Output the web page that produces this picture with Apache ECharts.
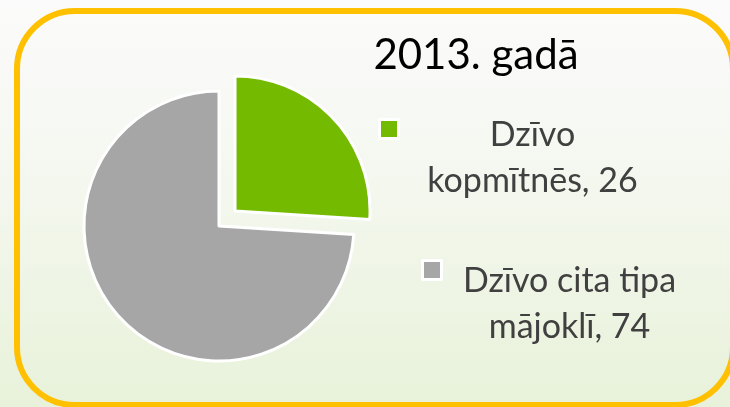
<!DOCTYPE html>
<html>
<head>
<meta charset="utf-8">
<script src="https://cdn.jsdelivr.net/npm/echarts@6/dist/echarts.min.js"></script>
<style>
  html, body { margin: 0; padding: 0; }
  #chart { width: 730px; height: 407px; }
</style>
</head>
<body>
<div id="chart"></div>
<script>
var TITLE = "2013. gadā";
var categories = ["Dzīvo kopmītnēs", "Dzīvo cita tipa mājoklī"];
var values = [26, 74];
var colors = ["#74ba00", "#a6a6a6"];

var chart = echarts.init(document.getElementById("chart"));

// label text: break before the last word, add the value
function labelText(name) {
    var i = categories.indexOf(name);
    var cut = name.lastIndexOf(" ");
    return "{t|" + name.slice(0, cut) + "}\n{t|" + name.slice(cut + 1) + ", " + values[i] + "}";
}

function makeLegend(idx, left, top, padTop, boxW) {
    return {
        data: [categories[idx]],
        left: left,
        top: top,
        padding: 0,
        icon: "rect",
        itemWidth: 19,
        itemHeight: 19,
        itemStyle: { borderColor: "#fff", borderWidth: 3 },
        selectedMode: false,
        formatter: labelText,
        textStyle: {
            padding: [padTop, 0, 0, 0],
            rich: {
                t: {
                    width: boxW,
                    align: "center",
                    fontFamily: "Lato",
                    fontSize: 34,
                    lineHeight: 46,
                    color: "#404040"
                }
            }
        }
    };
}

var option = {
    animation: false,
    backgroundColor: {
        type: "linear", x: 0, y: 0, x2: 0, y2: 1,
        colorStops: [
            { offset: 0, color: "#fbfbfb" },
            { offset: 0.35, color: "#f6f8f2" },
            { offset: 1, color: "#e8f2da" }
        ]
    },
    title: {
        text: TITLE,
        left: 471,
        top: 29,
        textAlign: "center",
        textStyle: { fontFamily: "Lato", fontSize: 42, fontWeight: "normal", color: "#000" }
    },
    legend: [
        makeLegend(0, 378, 118, 58, 258),
        makeLegend(1, 421, 259, 69, 246)
    ],
    graphic: [{
        type: "rect",
        z: 10,
        shape: { x: 17, y: 11, width: 716, height: 394, r: 58 },
        style: { fill: "none", stroke: "#ffc000", lineWidth: 6 }
    }],
    series: [{
        type: "pie",
        center: [219, 226],
        radius: [0, 135],
        startAngle: 90,
        clockwise: true,
        selectedMode: "single",
        selectedOffset: 22,
        label: { show: false },
        labelLine: { show: false },
        itemStyle: { borderColor: "#fff", borderWidth: 3 },
        emphasis: { disabled: true },
        data: categories.map(function(c, i) {
            return {
                name: c,
                value: values[i],
                selected: i === 0,
                itemStyle: { color: colors[i] }
            };
        })
    }]
};

chart.setOption(option);
</script>
</body>
</html>
